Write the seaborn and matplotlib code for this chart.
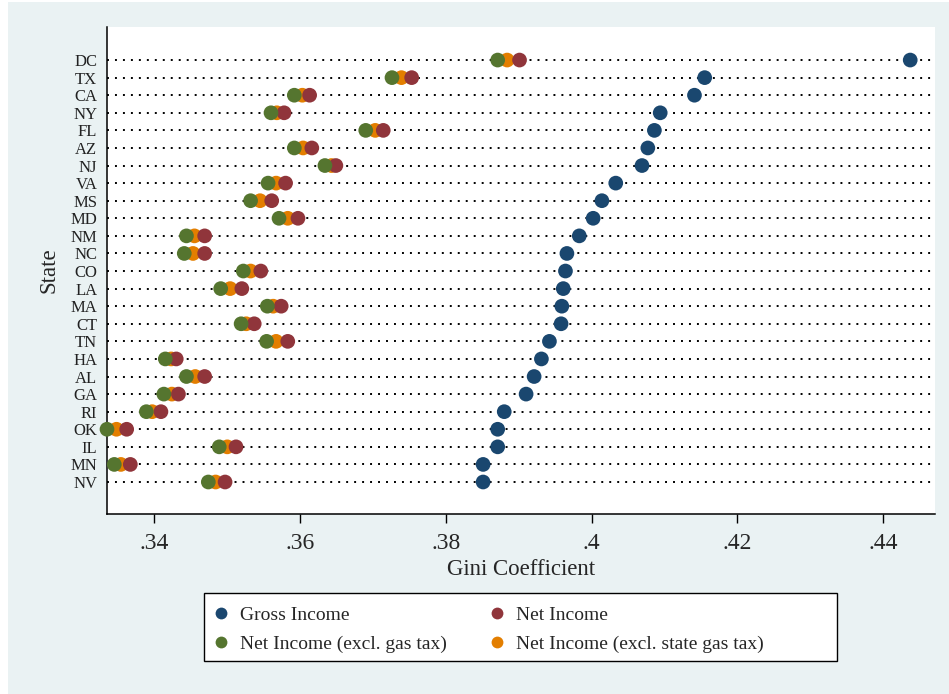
import numpy as np
import pandas as pd
import matplotlib
matplotlib.use("Agg")
import matplotlib.pyplot as plt
from matplotlib.lines import Line2D
from matplotlib.patches import Rectangle
import seaborn as sns

# ---- data ----
states = ["DC", "TX", "CA", "NY", "FL", "AZ", "NJ", "VA", "MS", "MD", "NM", "NC", "CO",
          "LA", "MA", "CT", "TN", "HA", "AL", "GA", "RI", "OK", "IL", "MN", "NV"]
gross = [0.4437, 0.4155, 0.4141, 0.4094, 0.4086, 0.4077, 0.4069, 0.4033, 0.4014, 0.4002,
         0.3983, 0.3966, 0.3964, 0.3961, 0.3959, 0.3958, 0.3942, 0.3931, 0.3921, 0.3910,
         0.3880, 0.3871, 0.3871, 0.3851, 0.3851]
net = [0.3901, 0.3753, 0.3613, 0.3578, 0.3714, 0.3616, 0.3649, 0.3580, 0.3561, 0.3597,
       0.3469, 0.3469, 0.3546, 0.3520, 0.3574, 0.3537, 0.3583, 0.3430, 0.3469, 0.3433,
       0.3409, 0.3362, 0.3512, 0.3367, 0.3497]
excl_gas = [0.3871, 0.3726, 0.3592, 0.3560, 0.3690, 0.3592, 0.3634, 0.3556, 0.3532, 0.3571,
            0.3444, 0.3441, 0.3522, 0.3491, 0.3555, 0.3519, 0.3554, 0.3415, 0.3444, 0.3413,
            0.3389, 0.3335, 0.3489, 0.3345, 0.3474]
excl_state = [0.3884, 0.3739, 0.3603, 0.3568, 0.3703, 0.3604, 0.3643, 0.3567, 0.3545, 0.3583,
              0.3455, 0.3453, 0.3532, 0.3504, 0.3563, 0.3526, 0.3567, 0.3423, 0.3456, 0.3424,
              0.3397, 0.3348, 0.3500, 0.3354, 0.3484]

series_names = ["Gross Income", "Net Income", "Net Income (excl. gas tax)",
                "Net Income (excl. state gas tax)"]
xticks = [0.34, 0.36, 0.38, 0.40, 0.42, 0.44]
xtick_labels = [".34", ".36", ".38", ".4", ".42", ".44"]

colors = {"Gross Income": "#1a476f", "Net Income": "#90353b",
          "Net Income (excl. gas tax)": "#55752f",
          "Net Income (excl. state gas tax)": "#e37e00"}
bg = "#eaf2f3"

# long form; orange first so it sits underneath the green and red dots
parts = [("Net Income (excl. state gas tax)", excl_state), ("Net Income", net),
         ("Net Income (excl. gas tax)", excl_gas), ("Gross Income", gross)]
df = pd.concat([pd.DataFrame({"State": states, "Gini": vals, "Series": name})
                for name, vals in parts], ignore_index=True)
df["State"] = pd.Categorical(df["State"], categories=states)

sns.set_theme(style="white")
plt.rcParams["font.family"] = ["Liberation Serif", "DejaVu Serif"]

fig = plt.figure(figsize=(9.49, 6.94), dpi=100, facecolor="white")
fig.patches.append(Rectangle((8 / 949, 0), 1, 1 - 2 / 694, transform=fig.transFigure,
                             facecolor=bg, edgecolor="none", zorder=-5))
ax = fig.add_axes([107 / 949, 180 / 694, 828 / 949, 487 / 694])
ax.set_facecolor("white")

xlo, xhi = 0.3335, 0.4471
ax.hlines(states, xlo, xhi, colors="black", linewidth=1.4,
          linestyles=(0, (1, 3.1)), zorder=1)

sns.scatterplot(data=df, x="Gini", y="State", hue="Series", palette=colors,
                s=112, linewidth=0, legend=False, ax=ax, zorder=3)
for c in ax.collections:
    c.set_clip_on(False)

ax.set_xlim(xlo, xhi)
ax.set_ylim(len(states) - 1 + 1.82, -1.88)
ax.set_xticks(xticks)
ax.set_xticklabels(xtick_labels, fontsize=17)
ax.tick_params(axis="x", length=6.5, width=1, color="black", pad=7, bottom=True)
ax.tick_params(axis="y", length=0, pad=7, labelsize=12)
for lab in ax.get_yticklabels():
    lab.set_color("#222222")
ax.set_xlabel("Gini Coefficient", fontsize=16.5, labelpad=4)
ax.set_ylabel("State", fontsize=16.5, labelpad=8)
for side in ["top", "right"]:
    ax.spines[side].set_visible(False)
for side in ["left", "bottom"]:
    ax.spines[side].set_color("black")
    ax.spines[side].set_linewidth(1.1)

# legend box and two columns of entries
fig.patches.append(Rectangle((204 / 949, 1 - 661 / 694), 633 / 949, 68 / 694,
                             transform=fig.transFigure, facecolor="white",
                             edgecolor="black", linewidth=1, zorder=2))


def handle(name):
    return Line2D([], [], linestyle="none", marker="o", markersize=8.5,
                  markerfacecolor=colors[name], markeredgewidth=0)


for names, x0 in [(series_names[0::2], 214 / 949), (series_names[1::2], 490 / 949)]:
    fig.legend([handle(n) for n in names], names, loc="upper left",
               bbox_to_anchor=(x0, 1 - 606 / 694), frameon=False, fontsize=14,
               handlelength=0.7, handletextpad=0.65, labelspacing=0.62,
               borderpad=0, borderaxespad=0)

fig.savefig("out.png", dpi=100, facecolor=fig.get_facecolor())
